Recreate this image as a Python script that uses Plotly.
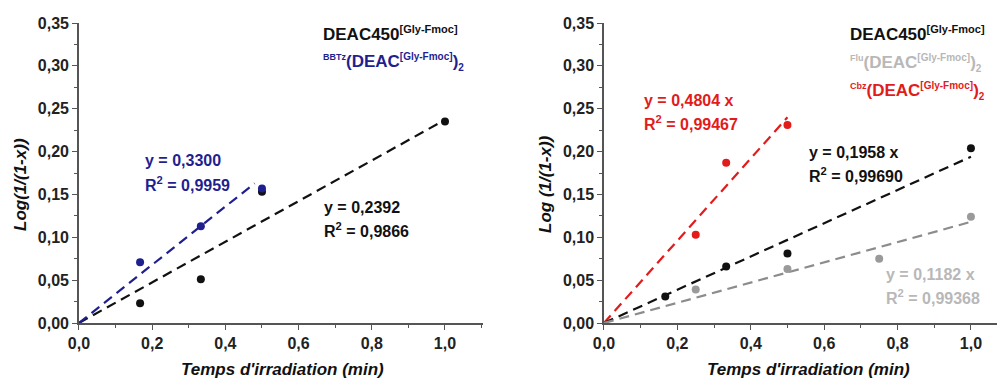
import plotly.graph_objects as go

# ---- data (left panel) ----
L_black_x = [0.167, 0.333, 0.5, 1.0]
L_black_y = [0.023, 0.051, 0.153, 0.235]
L_blue_x = [0.167, 0.333, 0.5]
L_blue_y = [0.071, 0.113, 0.157]
L_black_fit_x = [0.0, 1.0]
L_black_fit_y = [0.0, 0.237]
L_blue_fit_x = [0.0, 0.48]
L_blue_fit_y = [0.0, 0.163]

# ---- data (right panel) ----
R_red_x = [0.25, 0.333, 0.5]
R_red_y = [0.103, 0.187, 0.231]
R_black_x = [0.167, 0.333, 0.5, 1.0]
R_black_y = [0.031, 0.066, 0.081, 0.204]
R_gray_x = [0.25, 0.5, 0.75, 1.0]
R_gray_y = [0.039, 0.063, 0.075, 0.124]
R_red_fit_x = [0.0, 0.5]
R_red_fit_y = [0.0, 0.240]
R_black_fit_x = [0.0, 1.0]
R_black_fit_y = [0.0, 0.194]
R_gray_fit_x = [0.0, 1.0]
R_gray_fit_y = [0.0, 0.118]

x_tickvals = [0.0, 0.2, 0.4, 0.6, 0.8, 1.0]
x_ticktext = ["0,0", "0,2", "0,4", "0,6", "0,8", "1,0"]
y_tickvals = [0.0, 0.05, 0.10, 0.15, 0.20, 0.25, 0.30, 0.35]
y_ticktext = ["0,00", "0,05", "0,10", "0,15", "0,20", "0,25", "0,30", "0,35"]

BLACK = "#111111"
BLUE = "#1f1f8f"
RED = "#e21b1b"
GRAY_LINE = "#8c8c8c"
GRAY_PT = "#9a9a9a"
GRAY_TXT = "#b8b8b8"
FONT = "Liberation Sans"

fig = go.Figure()

def add_fit(x, y, color, xa, ya):
    fig.add_trace(go.Scatter(x=x, y=y, mode="lines", xaxis=xa, yaxis=ya,
                             line=dict(color=color, width=2.2, dash="10px,6px"),
                             showlegend=False, hoverinfo="skip", cliponaxis=False))

def add_pts(x, y, color, xa, ya):
    fig.add_trace(go.Scatter(x=x, y=y, mode="markers", xaxis=xa, yaxis=ya,
                             marker=dict(color=color, size=8,
                                         line=dict(color=color, width=0)),
                             showlegend=False, cliponaxis=False))

add_fit(L_black_fit_x, L_black_fit_y, BLACK, "x", "y")
add_fit(L_blue_fit_x, L_blue_fit_y, BLUE, "x", "y")
add_pts(L_black_x, L_black_y, BLACK, "x", "y")
add_pts(L_blue_x, L_blue_y, BLUE, "x", "y")

add_fit(R_red_fit_x, R_red_fit_y, RED, "x2", "y2")
add_fit(R_black_fit_x, R_black_fit_y, BLACK, "x2", "y2")
add_fit(R_gray_fit_x, R_gray_fit_y, GRAY_LINE, "x2", "y2")
add_pts(R_red_x, R_red_y, RED, "x2", "y2")
add_pts(R_black_x, R_black_y, BLACK, "x2", "y2")
add_pts(R_gray_x, R_gray_y, GRAY_PT, "x2", "y2")

axis_common = dict(showgrid=False, zeroline=False, showline=True, automargin=False,
                   linecolor="#555555", linewidth=1.5,
                   ticks="outside", ticklen=5, tickwidth=1.2, tickcolor="#555555",
                   tickfont=dict(family=FONT, size=16, color="#222222", weight="bold"))

xa_common = dict(axis_common, tickvals=x_tickvals, ticktext=x_ticktext,
                 minor=dict(ticks="outside", ticklen=3, tickcolor="#555555", tickwidth=1, dtick=0.1))
ya_common = dict(axis_common, tickvals=y_tickvals, ticktext=y_ticktext,
                 minor=dict(ticks="outside", ticklen=3, tickcolor="#555555", tickwidth=1, dtick=0.025))

fig.update_layout(
    width=997, height=378,
    margin=dict(l=0, r=0, t=23, b=55, autoexpand=False),
    paper_bgcolor="white", plot_bgcolor="white",
    xaxis=dict(xa_common, domain=[0.0792, 0.4845], range=[0, 1.104], anchor="y"),
    yaxis=dict(ya_common, domain=[0, 1], range=[0, 0.35], anchor="x"),
    xaxis2=dict(xa_common, domain=[0.6058, 1.0], range=[0, 1.071], anchor="y2"),
    yaxis2=dict(ya_common, domain=[0, 1], range=[0, 0.35], anchor="x2"),
)

W, H = 997, 378
def px(xp): return xp / W
def py(yp): return (H - 55 - yp) / (H - 55 - 23)

def ann(x, y, text, color, size=16, xanchor="left", yanchor="middle", **kw):
    fig.add_annotation(x=px(x), y=py(y), xref="paper", yref="paper", text=text,
                       showarrow=False, xanchor=xanchor, yanchor=yanchor,
                       font=dict(family=FONT, size=size, color=color, weight="bold"), **kw)

def small(t, s):
    return '<span style="font-size:%dpx">%s</span>' % (s, t)

# axis titles
ann(282, 369, "<i>Temps d'irradiation (min)</i>", "#111111", size=17, xanchor="center")
ann(808, 369, "<i>Temps d'irradiation (min)</i>", "#111111", size=17, xanchor="center")
ann(20, 185, "<i>Log(1/(1-x))</i>", "#111111", size=17, xanchor="center", textangle=-90)
ann(545, 184, "<i>Log (1/(1-x))</i>", "#111111", size=17, xanchor="center", textangle=-90)

def compound(prefix):
    return ("<sup>" + small(prefix, 9) + "</sup>(DEAC<sup>" + small("[Gly-Fmoc]", 10)
            + "</sup>)<sub>" + small("2", 10) + "</sub>")

legend_top = "DEAC450<sup>" + small("[Gly-Fmoc]", 11) + "</sup>"

# left legend-like texts
ann(321, 34, legend_top, "#111111", size=17)
ann(321, 62, compound("BBTz"), BLUE, size=17)
ann(143, 160, "y = 0,3300", BLUE)
ann(143, 184, "R<sup>2</sup> = 0,9959", BLUE)
ann(322, 207, "y = 0,2392", "#111111")
ann(322, 230, "R<sup>2</sup> = 0,9866", "#111111")

# right legend-like texts
ann(848, 34, legend_top, "#111111", size=17)
ann(848, 63, compound("Flu"), GRAY_TXT, size=17)
ann(848, 91, compound("Cbz"), RED, size=17)
ann(642, 100, "y = 0,4804 x", RED)
ann(642, 123, "R<sup>2</sup> = 0,99467", RED)
ann(807, 152, "y = 0,1958 x", "#111111")
ann(807, 175, "R<sup>2</sup> = 0,99690", "#111111")
ann(884, 274, "y = 0,1182 x", GRAY_TXT)
ann(884, 297, "R<sup>2</sup> = 0,99368", GRAY_TXT)

fig.write_html("out.html", config={"displayModeBar": False},
               post_script="document.body.style.margin='0';document.body.style.overflow='hidden';")
